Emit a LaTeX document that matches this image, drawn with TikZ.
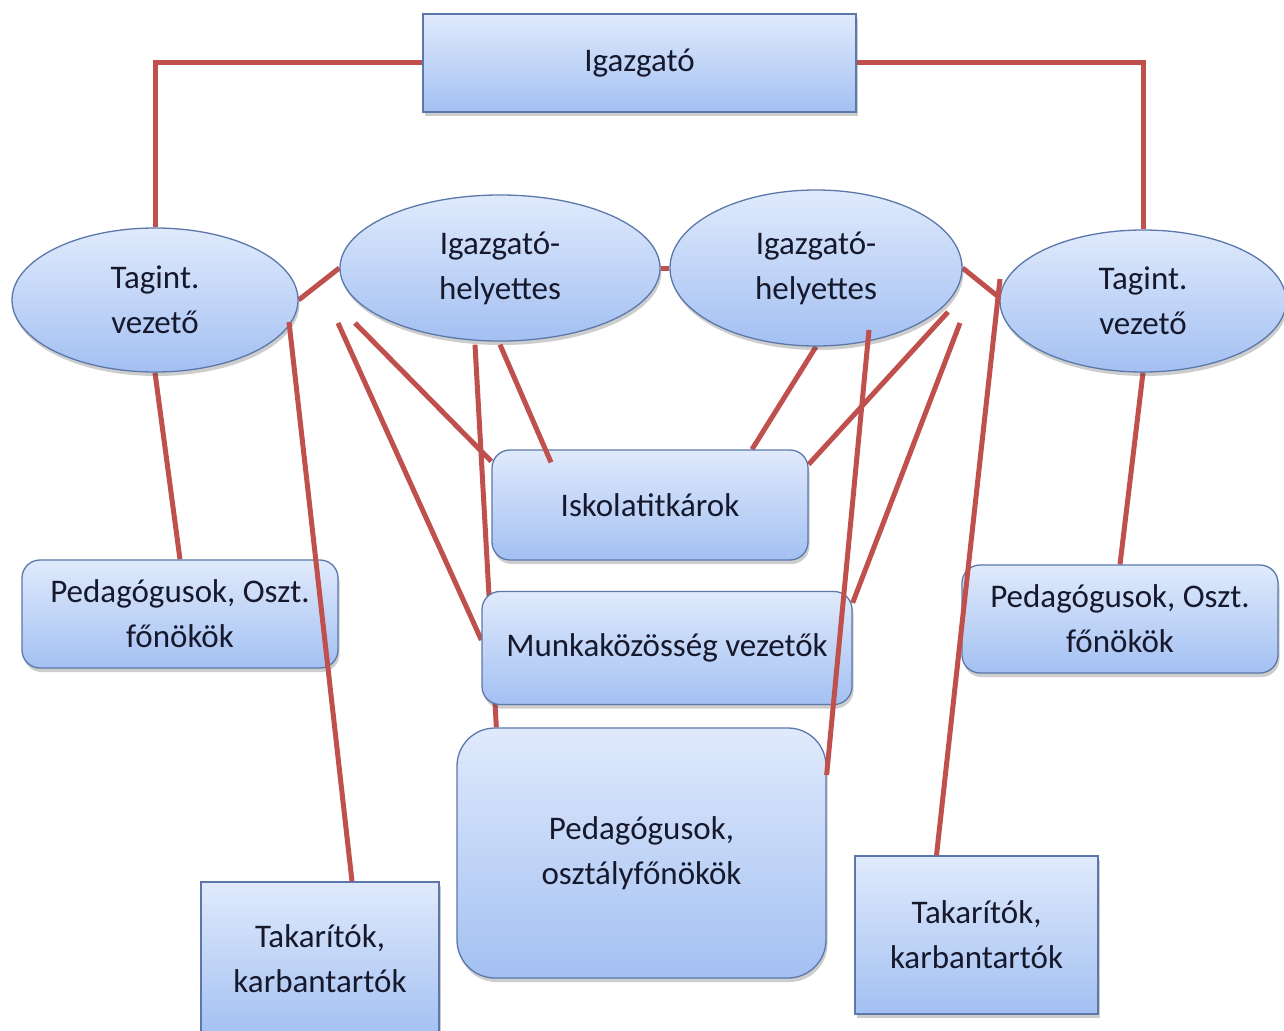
\documentclass[tikz,border=0pt]{standalone}
\usepackage{fontspec}
\setmainfont{Carlito}
\usetikzlibrary{shapes.geometric,shadows,calc}
\pgfdeclarelayer{bg}
\pgfdeclarelayer{fg}
\pgfsetlayers{bg,main,fg}
\definecolor{linkred}{RGB}{192,80,77}
\definecolor{boxtop}{RGB}{224,234,252}
\definecolor{boxbot}{RGB}{163,192,242}
\definecolor{boxline}{RGB}{92,120,170}
\definecolor{txtcol}{RGB}{22,24,44}
\begin{document}
\begin{tikzpicture}[x=1pt,y=-1pt,
  base/.style={draw=boxline, line width=1.3pt, top color=boxtop, bottom color=boxbot,
    text=txtcol, align=center, inner sep=0pt,
    font=\fontsize{33}{45}\selectfont,
    drop shadow={shadow xshift=1.5pt, shadow yshift=-4pt, opacity=0.28, fill=black!70}},
  sqbox/.style={base, rectangle},
  rbox/.style={base, rectangle, rounded corners=18pt},
  ebox/.style={base, ellipse},
  link/.style={draw=linkred, line width=5pt}
]
\useasboundingbox (0,0) rectangle (1284,1030);

\node[sqbox, minimum width=433pt, minimum height=98pt] (ig) at (639.5,63) {Igazgató};
\node[ebox, minimum width=286pt, minimum height=144pt] (tl) at (155,300) {Tagint.\\vezető};
\node[ebox, minimum width=320pt, minimum height=146pt] (hl) at (500,268) {Igazgató-\\helyettes};
\node[ebox, minimum width=292pt, minimum height=156pt] (hr) at (816,268) {Igazgató-\\helyettes};
\node[ebox, minimum width=286pt, minimum height=142pt] (tr) at (1143,301) {Tagint.\\vezető};
\node[rbox, minimum width=316pt, minimum height=108pt] (pl) at (180,614) {Pedagógusok, Oszt.\\főnökök};
\node[rbox, minimum width=316pt, minimum height=108pt] (pr) at (1120,619) {Pedagógusok, Oszt.\\főnökök};
\node[rbox, minimum width=316pt, minimum height=110pt] (isk) at (650,505) {Iskolatitkárok};
\node[rbox, minimum width=370pt, minimum height=113pt] (mk) at (667,648) {Munkaközösség vezetők};
\node[rbox, rounded corners=38pt, minimum width=369pt, minimum height=250pt] (pb) at (641.5,853) {Pedagógusok,\\osztályfőnökök};
\node[sqbox, minimum width=238pt, minimum height=154pt] (tkl) at (320,959) {Takarítók,\\karbantartók};
\node[sqbox, minimum width=243pt, minimum height=158pt] (tkr) at (976.5,935) {Takarítók,\\karbantartók};

\begin{pgfonlayer}{bg}
  \fill[white] (0,0) rectangle (1284,1030);
  \draw[link] (ig.west) -| (tl.north);
  \draw[link] (ig.east) -| (tr.north);
  \draw[link] (tl.east) -- (hl.west);
  \draw[link] (hl.east) -- (hr.west);
  \draw[link] (hr.east) -- ($(tr.west)+(-2,-5)$);
  \draw[link] (tl.south) -- (pl.north);
  \draw[link] (tr.south) -- (pr.north);
  \draw[link] ($(hl.center)+(-145,55)$) -- ($(isk.north west)+(0,12)$);
  \draw[link] ($(hl.center)+(-162,55)$) -- ($(mk.west)+(0,-8)$);
  \draw[link] ($(hl.south)+(-25,3)$) -- ($(pb.north west)+(40,0)$);
  \draw[link] (hr.south) -- ($(isk.north)+(102,0)$);
  \draw[link] ($(hr.center)+(132,44)$) -- ($(isk.north east)+(0,15)$);
  \draw[link] ($(hr.center)+(144,55)$) -- ($(mk.north east)+(0,12)$);
\end{pgfonlayer}

\begin{pgfonlayer}{fg}
  \draw[link] ($(tl.center)+(134,22)$) -- ($(tkl.north)+(32,0)$);
  \draw[link] ($(tr.center)+(-143,-22)$) -- ($(tkr.north)+(-40,0)$);
  \draw[link] ($(hl.south)+(0,3)$) -- ($(isk.north)+(-99,13)$);
  \draw[link] ($(hr.center)+(53,62)$) -- ($(pb.east)+(0,-78)$);
\end{pgfonlayer}
\end{tikzpicture}
\end{document}
